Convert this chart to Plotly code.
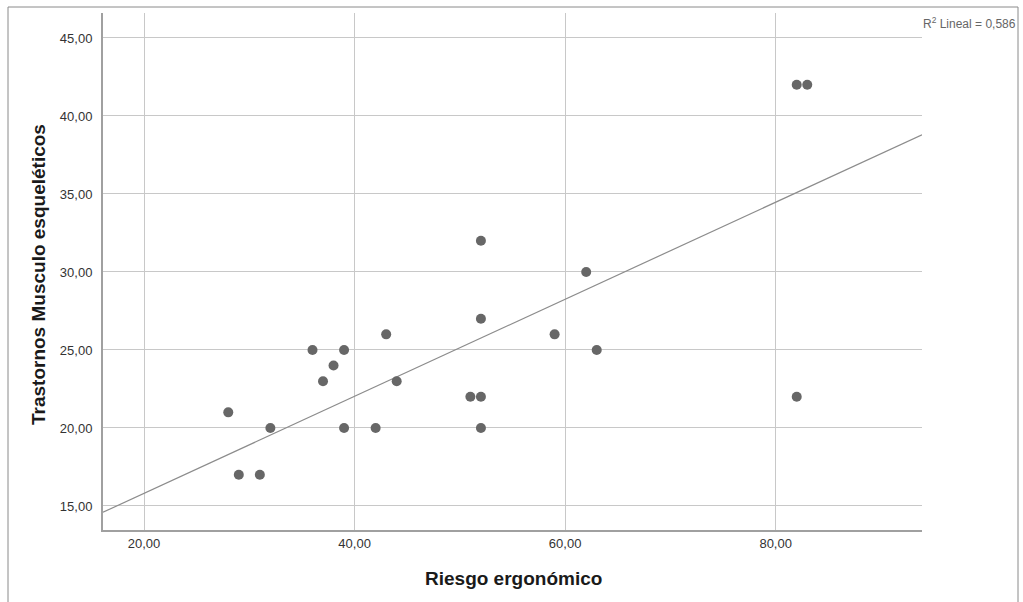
import plotly.graph_objects as go

riesgo = [28, 29, 31, 32, 36, 37, 38, 39, 39, 42, 43, 44, 51, 52, 52, 52, 52, 59, 62, 63, 82, 83, 82]
trastornos = [21, 17, 17, 20, 25, 23, 24, 25, 20, 20, 26, 23, 22, 22, 32, 27, 20, 26, 30, 25, 42, 42, 22]
x_ticks = [20, 40, 60, 80]
x_tick_labels = ["20,00", "40,00", "60,00", "80,00"]
y_ticks = [15, 20, 25, 30, 35, 40, 45]
y_tick_labels = ["15,00", "20,00", "25,00", "30,00", "35,00", "40,00", "45,00"]
r2_label = "R<sup>2</sup> Lineal = 0,586"
# fitted line as drawn in the reference
fit_intercept = 9.59
fit_slope = 0.311

x_range = [16.1, 93.9]
y_range = [13.46, 46.6]

fx = list(x_range)
fy = [fit_intercept + fit_slope * v for v in fx]

fig = go.Figure()
fig.add_trace(go.Scatter(x=fx, y=fy, mode="lines",
                         line=dict(color="#8c8c8c", width=1.2),
                         hoverinfo="skip", showlegend=False))
fig.add_trace(go.Scatter(x=riesgo, y=trastornos, mode="markers",
                         marker=dict(color="#676767", size=10, line=dict(width=0)),
                         showlegend=False))

W, H = 1023, 602
L, R, T, B = 103, 922, 13, 530

def px(x):
    return (x - L) / (R - L)

def py(y):
    return (B - y) / (B - T)

fig.update_layout(
    width=W, height=H,
    margin=dict(l=L, r=W - R, t=T, b=H - B, pad=0),
    paper_bgcolor="white", plot_bgcolor="white",
    font=dict(family="Liberation Sans, Arial, sans-serif", color="#333333", size=13),
    xaxis=dict(range=x_range, tickvals=x_ticks, ticktext=x_tick_labels,
               showgrid=True, gridcolor="#c8c8c8", gridwidth=1,
               showline=True, linecolor="#a0a0a0", linewidth=2,
               zeroline=False, ticks="", ticklen=0,
               tickfont=dict(size=13, color="#333333")),
    yaxis=dict(range=y_range, tickvals=y_ticks, ticktext=y_tick_labels,
               showgrid=True, gridcolor="#c8c8c8", gridwidth=1,
               showline=True, linecolor="#a0a0a0", linewidth=2,
               zeroline=False, ticks="outside", ticklen=6, tickcolor="white",
               tickfont=dict(size=13, color="#333333")),
    shapes=[dict(type="rect", xref="paper", yref="paper",
                 x0=px(8), x1=px(1018), y0=py(640), y1=py(7),
                 line=dict(color="#8a8a8a", width=1), fillcolor="rgba(0,0,0,0)", layer="below")],
    annotations=[
        dict(text=r2_label, xref="paper", yref="paper",
             x=px(921), y=py(23), xanchor="left", yanchor="middle",
             showarrow=False, font=dict(size=12, color="#666666")),
        dict(text="<b>Riesgo ergonómico</b>", xref="paper", yref="paper",
             x=px(513), y=py(578), xanchor="center", yanchor="middle",
             showarrow=False, font=dict(size=19, color="#1a1a1a")),
        dict(text="<b>Trastornos Musculo esqueléticos</b>", xref="paper", yref="paper",
             x=px(38), y=py(275), xanchor="center", yanchor="middle", textangle=-90,
             showarrow=False, font=dict(size=19, color="#1a1a1a")),
    ],
)

fig.write_html("out.html")
